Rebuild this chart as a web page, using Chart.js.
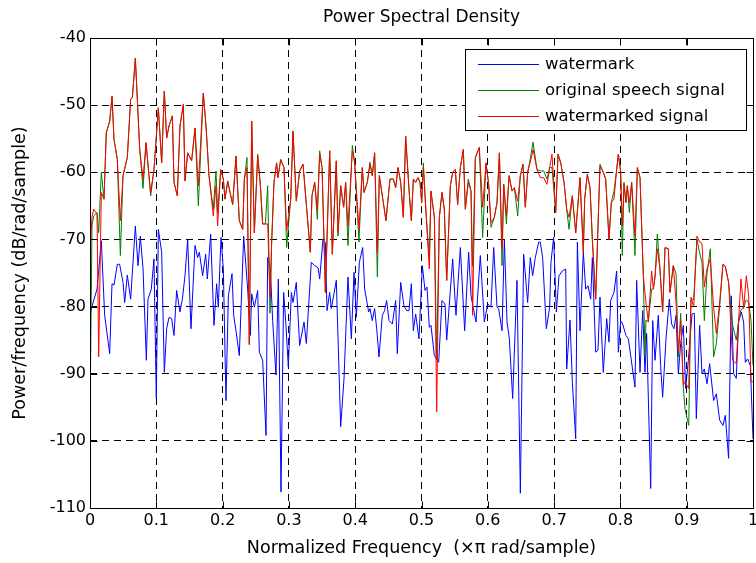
<!DOCTYPE html>
<html>
<head>
<meta charset="utf-8">
<script src="https://cdn.jsdelivr.net/npm/chart.js@4.4.1/dist/chart.umd.min.js"></script>
<style>
  html, body { margin: 0; padding: 0; background: #fff; }
  #wrap { width: 756px; height: 563px; }
</style>
</head>
<body>
<div id="wrap"><canvas id="psdChart" width="756" height="563"></canvas></div>
<script>
// normalized frequency (x pi rad/sample) of the speech / watermarked signal vertices
const sigFreq = [
  0, 0.003, 0.0055, 0.0106, 0.0131, 0.0171, 0.0211, 0.0246, 0.0297, 0.0332, 0.0362, 0.0412, 0.0458, 0.0498, 0.0563, 0.0613, 0.0639, 0.0684, 0.075, 0.08, 0.0845, 0.0915, 0.0965,
  0.1031, 0.1081, 0.1121, 0.1156, 0.1192, 0.1242, 0.1267, 0.1317, 0.1357, 0.1408, 0.1433, 0.1473, 0.1533, 0.1584, 0.1634, 0.1709, 0.175, 0.1795, 0.186, 0.19, 0.1925, 0.1971, 0.2011,
  0.2036, 0.2077, 0.2112, 0.2152, 0.2202, 0.2252, 0.2303, 0.2328, 0.2368, 0.2403, 0.2439, 0.2479, 0.2529, 0.2569, 0.2604, 0.2645, 0.268, 0.2715, 0.274, 0.2775, 0.2815, 0.2835, 0.2876, 0.2926, 0.2966,
  0.3027, 0.3062, 0.3112, 0.3162, 0.3213, 0.3263, 0.3323, 0.3348, 0.3389, 0.3429, 0.3464, 0.35, 0.355, 0.3615, 0.3655, 0.3715, 0.3741, 0.3781, 0.3826, 0.3856, 0.3891, 0.3957, 0.3992,
  0.4057, 0.4107, 0.4133, 0.4183, 0.4223, 0.4258, 0.4293, 0.4334, 0.4364, 0.4424, 0.4464, 0.4525, 0.4575, 0.461, 0.4646, 0.4686, 0.4726, 0.4761, 0.4811, 0.4847, 0.4877, 0.4912, 0.4947, 0.4977, 0.5003,
  0.5028, 0.5068, 0.5118, 0.5143, 0.5194, 0.5229, 0.5269, 0.5309, 0.5344, 0.538, 0.5435, 0.547, 0.551, 0.5545, 0.5586, 0.5631, 0.5661, 0.5706, 0.5747, 0.5771, 0.5812, 0.5872, 0.5922, 0.5973, 0.6013, 0.6048,
  0.6099, 0.6139, 0.6175, 0.6215, 0.624, 0.6281, 0.6321, 0.6366, 0.6401, 0.6451, 0.6491, 0.6531, 0.6566, 0.6601, 0.6641, 0.6682, 0.6742, 0.6792, 0.6842, 0.6893, 0.6933, 0.6968,
  0.7024, 0.706, 0.71, 0.715, 0.719, 0.7225, 0.7275, 0.7326, 0.7391, 0.7441, 0.7461, 0.7501, 0.7542, 0.7577, 0.7627, 0.7692, 0.7742, 0.7778, 0.7828, 0.7863, 0.7903, 0.7944, 0.7969, 0.8004, 0.8029,
  0.8054, 0.8084, 0.8104, 0.8135, 0.817, 0.822, 0.8256, 0.8296, 0.8346, 0.8371, 0.8386, 0.8421, 0.8471, 0.8497, 0.8522, 0.8557, 0.8597, 0.8637, 0.8673, 0.8723, 0.8748, 0.8798, 0.8839, 0.8874, 0.8909, 0.8949, 0.8974,
  0.903, 0.9065, 0.9105, 0.9155, 0.9195, 0.9231, 0.9266, 0.9306, 0.9356, 0.9406, 0.9447, 0.9497, 0.9547, 0.9582, 0.9632, 0.9693, 0.9748, 0.9783, 0.9819, 0.9859, 0.9899, 0.9935, 0.997, 1
];

// original speech signal, dB/rad/sample
const originalDb = [
  -97, -68, -66.5, -66, -69, -60, -64, -54.1, -52.4, -48.7, -55.1, -58.1, -72.4, -60.5, -57.8, -49.1, -48.9, -43, -56.6, -62.4, -55.6, -63.5, -59.6,
  -50.4, -58.6, -47.9, -54.9, -53.1, -51.6, -61.5, -63.5, -53.1, -49.9, -61.3, -57.1, -58.3, -53.4, -65, -48.2, -53.1, -60.5, -65.5, -59.8, -66, -59.6, -61,
  -64, -61.3, -63, -64.8, -57.6, -67.2, -68.5, -61, -57.8, -85.7, -52.4, -69, -57.3, -61.8, -67.7, -67.7, -62, -81, -70.4, -61.5, -58.6, -60.8, -58.1, -59.3, -71.2,
  -64, -53.9, -64.3, -59.8, -58.8, -64.8, -71.9, -63.5, -61.5, -67, -56.8, -59.3, -77.9, -56.8, -72.2, -58.3, -69.5, -62, -65.2, -61.5, -70.9, -56, -58.6,
  -70.4, -59.3, -63, -61.5, -58.5, -60.5, -57.1, -75.6, -60.5, -64.5, -67.2, -61, -61, -62.3, -59.3, -61.5, -66.7, -54.6, -62.5, -67.2, -61, -61.5, -60.8, -61.5, -64.5,
  -58.6, -66, -72.9, -62.8, -66.7, -88, -66.7, -63, -65.5, -76.1, -62, -60, -59.6, -64.8, -59.3, -56.6, -65.5, -61, -62.8, -74, -57.8, -56.3, -69.7, -58.6, -61.8, -68.2,
  -66.7, -64.5, -57.1, -73.9, -61.8, -67.7, -60.5, -62.8, -62.3, -66.5, -60.5, -58.8, -65.2, -60, -58, -55.5, -59.6, -59.8, -59.8, -61, -59.3, -59.3,
  -66, -57.3, -58.6, -61.5, -65.5, -68.5, -63.5, -69, -60.8, -71.9, -64, -60.3, -62.3, -70, -78.9, -58.8, -60, -61, -70, -64.5, -62.8, -59.6, -57.3, -60, -72.4,
  -61.5, -64.5, -62, -66, -61.5, -72.4, -59.3, -60.8, -75.4, -87.3, -82, -82.3, -77.4, -77.4, -75.6, -69.2, -74.4, -80.8, -71.2, -71.4, -77.9, -73.9, -75.1, -87.5, -81, -92, -95.2,
  -97.7, -79, -79, -70, -72, -73.4, -82.1, -75, -71.4, -87.5, -85.5, -80, -73.7, -74, -76.4, -82.8, -85, -82.1, -80.5, -80, -79, -79.4, -82.1, -88.8
];

// watermarked signal, dB/rad/sample
const markedDb = [
  -72, -66.7, -65.5, -66.2, -87.5, -63, -64, -54.1, -52.4, -48.7, -55.1, -58.1, -67.2, -60.5, -57.8, -49.1, -48.9, -43, -56.6, -61, -55.6, -63, -59.6,
  -50.4, -58.6, -47.9, -54.9, -53.1, -51.6, -61.5, -63.5, -53.1, -49.9, -61.3, -57.1, -58.3, -53.4, -62, -48.2, -53.1, -60.5, -66.5, -62, -68, -59.6, -61,
  -64, -61.3, -63, -64.8, -57.6, -67.2, -68.5, -61, -59.3, -85.5, -52.4, -69, -57.6, -61.8, -67.7, -67.7, -67.7, -78.6, -70.4, -61.5, -58.6, -60.8, -58.1, -59.3, -68.7,
  -64, -53.9, -64.3, -59.8, -58.8, -64.8, -71.9, -63.5, -61.5, -65.5, -57.3, -59.3, -77.9, -56.8, -72.2, -58.3, -69, -62, -65.2, -61.5, -68, -56.8, -58.6,
  -68.5, -59.3, -63, -61.5, -58.8, -60.5, -57.1, -72, -60.5, -64.5, -67.2, -61, -61, -62.3, -59.3, -61.5, -66.7, -54.6, -62.5, -67.2, -61, -61.5, -60.8, -61.5, -64.5,
  -59.3, -66, -74.4, -62.8, -66.7, -95.7, -66.7, -63, -65.5, -76.1, -62, -60, -59.6, -64.8, -59.3, -56.6, -65.5, -61.5, -62.8, -81.3, -57.8, -56.3, -65.2, -58.6, -61.8, -67.5,
  -66.7, -64.5, -57.1, -71.4, -61.8, -66.5, -60.5, -62.8, -62.3, -64.3, -60.5, -58.8, -65.2, -60, -58.5, -56.6, -59.6, -60.8, -60.8, -61.8, -59.3, -57.3,
  -66, -57.3, -58.6, -61.5, -65.5, -66.7, -63.5, -69, -60.8, -71.9, -64, -60.3, -62.3, -70, -78.9, -59.1, -60, -61, -70, -64.5, -64, -59.6, -57.3, -60, -68,
  -61.8, -64.5, -62, -64.5, -61.5, -69.5, -59.3, -60.8, -75.4, -78, -79.4, -82.3, -74.7, -77.4, -75.6, -71.4, -74.4, -80.8, -71.2, -71.4, -77.9, -73.9, -79.4, -86.8, -82.1, -91.7, -91.2,
  -92.2, -78.6, -80.1, -69.5, -70.4, -70.6, -77.1, -74.4, -72.9, -80.1, -84, -79.4, -73.7, -74, -76.4, -88, -88.5, -82.1, -75.9, -80.3, -75.4, -78.4, -91.2, -91.2
];

// watermark alone
const wmFreq = [
  0, 0.002, 0.0106, 0.0171, 0.0221, 0.0297, 0.0332, 0.0362, 0.0412, 0.0447, 0.0498, 0.0523, 0.0563, 0.0613, 0.0684, 0.0724, 0.0759, 0.08, 0.085, 0.0875, 0.0925, 0.0965, 0.1,
  0.1031, 0.1081, 0.1121, 0.1156, 0.1192, 0.1232, 0.1267, 0.1307, 0.1357, 0.1393, 0.1433, 0.1473, 0.1523, 0.1584, 0.1624, 0.1649, 0.1699, 0.1745, 0.177, 0.182, 0.187, 0.191, 0.1935, 0.1976, 0.2011,
  0.2051, 0.2087, 0.2142, 0.2167, 0.2202, 0.2252, 0.2318, 0.2378, 0.2418, 0.2439, 0.2479, 0.2529, 0.2554, 0.2604, 0.2655, 0.268, 0.272, 0.2755, 0.2805, 0.2841, 0.2881, 0.2921, 0.2956, 0.2991,
  0.3037, 0.3062, 0.3112, 0.3162, 0.3228, 0.3263, 0.3338, 0.3389, 0.3439, 0.3464, 0.3514, 0.355, 0.3575, 0.3615, 0.364, 0.3715, 0.3781, 0.3831, 0.3891, 0.3942, 0.3982, 0.4017,
  0.4063, 0.4113, 0.4143, 0.4178, 0.4203, 0.4223, 0.4258, 0.4293, 0.4324, 0.4359, 0.4409, 0.4444, 0.4474, 0.451, 0.456, 0.461, 0.4635, 0.4686, 0.4736, 0.4776, 0.4811, 0.4847, 0.4877, 0.4912, 0.4962, 0.5013,
  0.5053, 0.5083, 0.5118, 0.5143, 0.5194, 0.5259, 0.5309, 0.5354, 0.538, 0.547, 0.552, 0.5586, 0.5651, 0.5711, 0.5747, 0.5822, 0.5887, 0.5948, 0.5998, 0.6048,
  0.6089, 0.6139, 0.6164, 0.6215, 0.625, 0.629, 0.6325, 0.6375, 0.644, 0.6491, 0.6541, 0.6601, 0.6641, 0.6677, 0.6717, 0.6767, 0.6792, 0.6827, 0.6883, 0.6933, 0.6953, 0.6993, 0.7034,
  0.7074, 0.7124, 0.7175, 0.719, 0.724, 0.7275, 0.7326, 0.7351, 0.7391, 0.7441, 0.7476, 0.7511, 0.7552, 0.7577, 0.7627, 0.7662, 0.7692, 0.7742, 0.7793, 0.7828, 0.7853, 0.7903, 0.7944, 0.7969, 0.8004,
  0.8034, 0.8084, 0.812, 0.8155, 0.822, 0.8245, 0.8296, 0.8336, 0.8371, 0.8396, 0.8457, 0.8487, 0.8522, 0.8572, 0.8607, 0.8637, 0.8688, 0.8738, 0.8773, 0.8808, 0.8839, 0.8874, 0.8909, 0.8949, 0.8984, 0.9025,
  0.908, 0.9115, 0.9145, 0.9195, 0.9231, 0.9266, 0.9306, 0.9346, 0.9406, 0.9447, 0.9497, 0.9547, 0.9582, 0.9632, 0.9672, 0.9708, 0.9748, 0.9783, 0.9824, 0.9859, 0.9884, 0.9919, 0.996, 1
];
const wmDb = [
  -81.6, -80.3, -77.4, -70.2, -81.3, -87, -76.6, -76.8, -73.7, -73.7, -76.4, -79.4, -75.3, -78.9, -68, -73.9, -69.5, -74.4, -88, -78.9, -77.4, -72.9, -93.7,
  -68.5, -71.9, -89.8, -83.3, -81.6, -81.8, -84.3, -77.6, -80.8, -78.9, -75.4, -70, -83.3, -70.9, -72.7, -71.9, -75.4, -72.2, -75.9, -69.2, -82.8, -76.6, -80.1, -69.7, -74.4,
  -94, -78.4, -75.1, -81.3, -83.6, -87.3, -69.5, -77.4, -84.3, -78.1, -80.1, -77.6, -86.8, -88, -99.2, -72.7, -74.4, -82.1, -90.2, -75.9, -107.6, -77.9, -82.8, -89,
  -77.9, -79.4, -76.4, -85.8, -82.3, -85.5, -73.4, -73.9, -74.2, -75.9, -70, -70.5, -80.6, -77.9, -80.3, -76.1, -97.9, -90.8, -75.6, -84.8, -74.9, -81.6,
  -73.4, -71.2, -77.4, -79.4, -80.8, -80.3, -82.1, -80.3, -83.3, -87.5, -81.3, -80.6, -79.1, -82.1, -82.6, -79.1, -87, -76.4, -79.9, -80.6, -80.6, -76.6, -83.6, -81.1, -84.8, -73.9,
  -77.6, -77.1, -83.1, -82.8, -87.3, -88.3, -79.1, -79.6, -85, -72.9, -81.3, -71.2, -83.6, -71.9, -78.4, -82.3, -72.4, -82.3, -79.6, -80.1,
  -71.2, -80.1, -80.3, -83.6, -70, -82.3, -84.8, -93.7, -76.1, -107.8, -72.2, -79.4, -72.7, -75.4, -72.7, -70.4, -70.4, -72.7, -83.3, -80.1, -73.4, -69.7, -80.8,
  -75.4, -74.7, -74.4, -89.3, -82, -91.2, -99.7, -70.4, -83.6, -71.9, -77.4, -76.9, -78.9, -72.7, -86.8, -86.5, -78.6, -89.8, -81.8, -85.3, -79.1, -77.9, -74.7, -86.8, -82.1,
  -82.6, -84.3, -84.8, -87.3, -92, -76.1, -89.8, -80.6, -89.8, -84, -107.1, -82.1, -88, -81.3, -88.8, -93.5, -84.8, -78.9, -82.6, -83.3, -81.3, -90, -85.5, -82.8, -92.2, -88,
  -81.1, -81, -96.7, -82.8, -90, -89.3, -91.5, -88.5, -94, -93, -96.9, -97.7, -96.2, -102.6, -78.4, -90, -90.7, -82.3, -80.8, -82.3, -88.3, -87.8, -88.8, -99.7
];

const xTicks = [0, 0.1, 0.2, 0.3, 0.4, 0.5, 0.6, 0.7, 0.8, 0.9, 1];
const yTicks = [-110, -100, -90, -80, -70, -60, -50, -40];
const seriesNames = ['watermark', 'original speech signal', 'watermarked signal'];
const seriesColors = ['#0000ff', '#008000', '#ff0000'];

const FONT = "'DejaVu Sans', sans-serif";
Chart.defaults.font.family = FONT;
Chart.defaults.color = '#000';

function toPoints(xs, ys) {
    return xs.map((x, i) => ({ x: x, y: ys[i] }));
}

// box, inward ticks, title, axis labels and legend drawn MATLAB style
const matlabAxes = {
    id: 'matlabAxes',
    afterDraw(chart) {
        const ctx = chart.ctx;
        const a = chart.chartArea;
        const sx = chart.scales.x, sy = chart.scales.y;
        const L = Math.round(a.left) + 0.5, R = Math.round(a.right) + 0.5;
        const T = Math.round(a.top) + 0.5, B = Math.round(a.bottom) + 0.5;
        ctx.save();
        ctx.strokeStyle = '#000';
        ctx.lineWidth = 1;
        ctx.setLineDash([]);
        ctx.strokeRect(L, T, R - L, B - T);

        const tl = 7;
        ctx.beginPath();
        xTicks.forEach(v => {
            const px = Math.round(sx.getPixelForValue(v)) + 0.5;
            ctx.moveTo(px, B); ctx.lineTo(px, B - tl);
            ctx.moveTo(px, T); ctx.lineTo(px, T + tl);
        });
        yTicks.forEach(v => {
            const py = Math.round(sy.getPixelForValue(v)) + 0.5;
            ctx.moveTo(L, py); ctx.lineTo(L + tl, py);
            ctx.moveTo(R, py); ctx.lineTo(R - tl, py);
        });
        ctx.stroke();

        ctx.fillStyle = '#000';
        ctx.textAlign = 'center';
        ctx.textBaseline = 'middle';
        ctx.font = '17px ' + FONT;
        ctx.fillText('Power Spectral Density', (a.left + a.right) / 2, 18);

        ctx.font = '17.5px ' + FONT;
        ctx.fillText('Normalized Frequency  (\u00d7\u03c0 rad/sample)', (a.left + a.right) / 2, 548);
        ctx.save();
        ctx.translate(20, (a.top + a.bottom) / 2);
        ctx.rotate(-Math.PI / 2);
        ctx.fillText('Power/frequency (dB/rad/sample)', 0, 0);
        ctx.restore();

        // legend
        const lx = 465.5, ly = 49.5, lw = 281, lh = 81;
        ctx.fillStyle = '#fff';
        ctx.fillRect(lx, ly, lw, lh);
        ctx.strokeStyle = '#000';
        ctx.strokeRect(lx, ly, lw, lh);
        const rows = [64.5, 90.5, 116.5];
        ctx.font = '16.5px ' + FONT;
        ctx.textAlign = 'left';
        seriesNames.forEach((name, i) => {
            ctx.strokeStyle = seriesColors[i];
            ctx.beginPath();
            ctx.moveTo(478, rows[i]);
            ctx.lineTo(539, rows[i]);
            ctx.stroke();
            ctx.fillStyle = '#000';
            ctx.fillText(name, 545, rows[i]);
        });
        ctx.restore();
    }
};

const psdCtx = document.getElementById('psdChart').getContext('2d');
const psdChart = new Chart(psdCtx, {
    type: 'line',
    data: {
        datasets: [{
            label: seriesNames[0],
            data: toPoints(wmFreq, wmDb),
            borderColor: seriesColors[0],
            order: 3
        }, {
            label: seriesNames[1],
            data: toPoints(sigFreq, originalDb),
            borderColor: seriesColors[1],
            order: 2
        }, {
            label: seriesNames[2],
            data: toPoints(sigFreq, markedDb),
            borderColor: seriesColors[2],
            order: 1
        }]
    },
    options: {
        responsive: false,
        animation: false,
        devicePixelRatio: 1,
        layout: {
            padding: { top: 38, right: 3, left: 0, bottom: 0 }
        },
        elements: {
            line: { borderWidth: 1, tension: 0, fill: false },
            point: { radius: 0, hoverRadius: 0 }
        },
        plugins: {
            legend: { display: false },
            title: { display: false },
            tooltip: { enabled: false }
        },
        scales: {
            x: {
                type: 'linear',
                min: 0,
                max: 1,
                afterBuildTicks: s => { s.ticks = xTicks.map(v => ({ value: v })); },
                afterFit: s => { s.height = 55; s.paddingLeft = 0; s.paddingRight = 0; },
                grid: { color: '#000', lineWidth: 1, drawTicks: false },
                border: { display: false, dash: [7, 5] },
                ticks: {
                    padding: 3,
                    maxRotation: 0,
                    font: { size: 16 },
                    callback: v => String(v)
                }
            },
            y: {
                type: 'linear',
                min: -110,
                max: -40,
                afterBuildTicks: s => { s.ticks = yTicks.map(v => ({ value: v })); },
                afterFit: s => { s.width = 90; },
                grid: { color: '#000', lineWidth: 1, drawTicks: false },
                border: { display: false, dash: [7, 5] },
                ticks: {
                    padding: 4,
                    font: { size: 16 },
                    callback: v => String(v)
                }
            }
        }
    },
    plugins: [matlabAxes]
});
</script>
</body>
</html>
